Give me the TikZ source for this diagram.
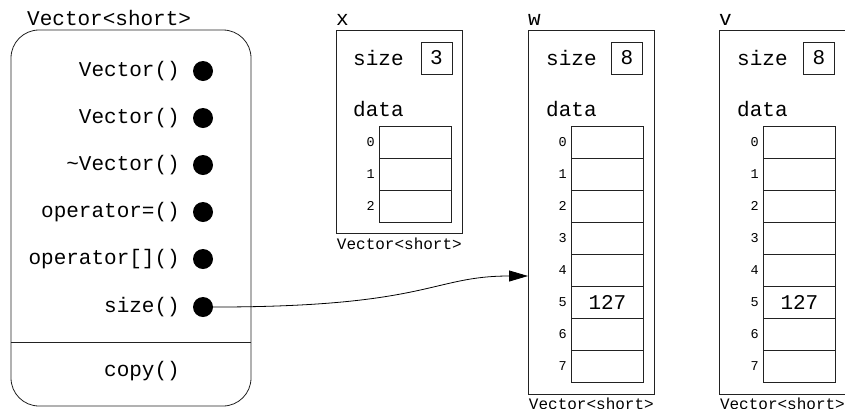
\documentclass[tikz,border=0pt]{standalone}
\usepackage{fontspec}
\setmainfont{Liberation Mono}
\usepackage{tikz}
\usetikzlibrary{arrows.meta,calc}
\definecolor{lineGray}{HTML}{222222}

\begin{document}
\begin{tikzpicture}[
    x=1pt, y=-1pt,
    cls/.style={draw=lineGray, rounded corners=28pt, minimum width=240pt, minimum height=376pt, line width=0.8pt},
    obj/.style={draw=lineGray, anchor=north west, minimum width=126pt, minimum height=#1, line width=0.8pt},
    cell/.style={draw=lineGray, anchor=north west, minimum width=72pt, minimum height=32pt, inner sep=0pt, line width=0.8pt},
    valbox/.style={draw=lineGray, minimum width=31pt, minimum height=32pt, inner sep=0pt, line width=0.8pt, font=\fontsize{21}{24}\selectfont},
    lbl/.style={inner sep=0pt, font=\fontsize{21}{24}\selectfont},
    idx/.style={inner sep=0pt, anchor=east, font=\fontsize{13.5}{16}\selectfont},
    tname/.style={inner sep=0pt, anchor=north, font=\fontsize{16}{18}\selectfont},
    dot/.style={circle, fill=black, minimum size=20pt, inner sep=0pt},
    arrow/.style={-{Triangle[length=19pt, width=11pt]}, line width=0.8pt},
  ]
  \useasboundingbox (0,0) rectangle (845,408);

  % Class box
  \node[lbl, anchor=base west] (ctitle) at (27,25) {Vector<short>};
  \node[cls] (cls) at (131,218) {};
  \draw[lineGray, line width=0.8pt] (cls.west |- 0,342) -- (cls.east |- 0,342);

  % Methods
  \node[lbl, anchor=east] (m1) at (180,71) {Vector()};
  \node[lbl, anchor=east] (m2) at (180,118) {Vector()};
  \node[lbl, anchor=east] (m3) at (180,165) {\textasciitilde Vector()};
  \node[lbl, anchor=east] (m4) at (180,212) {operator=()};
  \node[lbl, anchor=east] (m5) at (180,259) {operator[]()};
  \node[lbl, anchor=east] (m6) at (180,307) {size()};
  \node[lbl, anchor=east] (mcopy) at (180,371) {copy()};
  \node[dot] (d1) at (203,71) {};
  \node[dot] (d2) at (203,118) {};
  \node[dot] (d3) at (203,165) {};
  \node[dot] (d4) at (203,212) {};
  \node[dot] (d5) at (203,259) {};
  \node[dot] (d6) at (203,307) {};

  % Object x
  \node[lbl, anchor=base west] (xname) at (336,25) {x};
  \node[obj=203pt] (objx) at (336,30) {};
  \node[lbl, anchor=base west] (xsize) at (353,65) {size};
  \node[valbox] (xsizev) at (436.5,58) {3};
  \node[lbl, anchor=base west] (xdata) at (353,116) {data};
  \foreach \i in {0,...,2} {
    \node[cell] (x\i) at (379,{126+32*\i}) {};
    \node[idx] (xi\i) at ($(x\i.west)+(-4,0)$) {\i};
  }
  \node[tname] (xtype) at ($(objx.south)+(0,4)$) {Vector<short>};

  % Object w
  \node[lbl, anchor=base west] (wname) at (528,25) {w};
  \node[obj=364pt] (objw) at (528,30) {};
  \node[lbl, anchor=base west] (wsize) at (546,65) {size};
  \node[valbox] (wsizev) at (627,58) {8};
  \node[lbl, anchor=base west] (wdata) at (546,116) {data};
  \foreach \i in {0,...,7} {
    \node[cell] (w\i) at (571,{126+32*\i}) {};
    \node[idx] (wi\i) at ($(w\i.west)+(-4,0)$) {\i};
  }
  \node[lbl] (wval) at (w5.center) {127};
  \node[tname] (wtype) at ($(objw.south)+(0,3)$) {Vector<short>};

  % Object v
  \node[lbl, anchor=base west] (vname) at (719,25) {v};
  \node[obj=364pt] (objv) at (719,30) {};
  \node[lbl, anchor=base west] (vsize) at (737,65) {size};
  \node[valbox] (vsizev) at (819,58) {8};
  \node[lbl, anchor=base west] (vdata) at (737,116) {data};
  \foreach \i in {0,...,7} {
    \node[cell] (v\i) at (763,{126+32*\i}) {};
    \node[idx] (vi\i) at ($(v\i.west)+(-4,0)$) {\i};
  }
  \node[lbl] (vval) at (v5.center) {127};
  \node[tname] (vtype) at ($(objv.south)+(0,3)$) {Vector<short>};

  % Pointer
  \coordinate (wptr) at (objw.west |- 0,276);
  \draw[arrow] (d6.center) .. controls (430,308) and (430,276) .. (wptr);
\end{tikzpicture}
\end{document}
